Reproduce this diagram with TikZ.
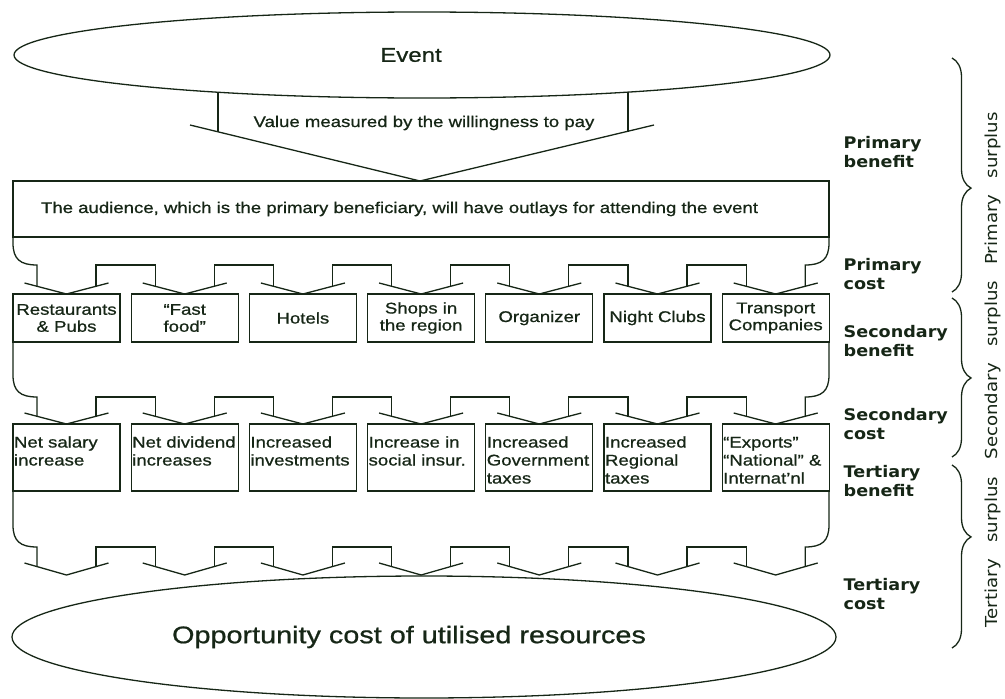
\documentclass[tikz,border=0pt]{standalone}
\usepackage{fontspec}
\setmainfont{Liberation Sans}[FakeStretch=1.2,FakeBold=0.8]
\newfontfamily\sidefont{DejaVu Sans}[FakeStretch=1.1]
\usepackage{tikz}
\usetikzlibrary{shapes.geometric,decorations.pathreplacing}
\definecolor{ink}{RGB}{22,38,22}
\newcommand{\nohyph}{\hyphenpenalty=10000\relax}

% one ring of block arrows: band top, comb line, head top, head tip
\newcommand{\combrow}[4]{%
  \draw (13,#1) -- (13,#2-22) .. controls (13,#2-6) and (20,#2) .. (37,#2) -- (37,#3+0.3*#4-0.3*#3);
  \draw (829,#1) -- (829,#2-22) .. controls (829,#2-6) and (822,#2) .. (805.2,#2) -- (805.2,#3+0.3*#4-0.3*#3);
  \foreach \i in {0,...,6} {
    \pgfmathsetmacro{\c}{66.5+118.2*\i}
    \draw (\c-42,#3) -- (\c,#4) -- (\c+42,#3);
    \ifnum\i<6
      \draw (\c+29.5,#3+0.3*#4-0.3*#3) -- (\c+29.5,#2) -- (\c+88.7,#2) -- (\c+88.7,#3+0.3*#4-0.3*#3);
    \fi
  }
}

\begin{document}
\begin{tikzpicture}[
    x=1pt, y=-1pt,
    line width=1.3pt,
    color=ink,
    bigoval/.style={ellipse, draw, inner sep=0},
    bandbox/.style={rectangle, draw, minimum height=56pt, text width=760pt, inner xsep=28pt, align=left, font=\fontsize{15.5}{18}\selectfont},
    benefitbox/.style={rectangle, draw, minimum height=48pt, text width=105pt, inner xsep=1pt, inner ysep=0pt, align=center, font=\fontsize{15.5}{17}\selectfont\nohyph},
    costbox/.style={rectangle, draw, text width=105pt, inner xsep=1pt, inner ysep=2pt, text height=21.5pt, text depth=41.5pt, align=left, font=\fontsize{15.5}{18}\selectfont\nohyph},
    sidelabel/.style={anchor=west, align=left, inner sep=0, font=\sidefont\bfseries\fontsize{16}{19}\selectfont},
    surplus/.style={rotate=90, inner sep=0, font=\sidefont\fontsize{16.5}{19}\selectfont},
    surplusbrace/.style={decorate, decoration={brace, amplitude=19pt, aspect=#1}}
]
\useasboundingbox (0,0) rectangle (1005,699);

\node[bigoval, minimum width=816pt, minimum height=86pt, font=\fontsize{20}{24}\selectfont] (event) at (422,55) {Event\hspace*{22pt}};
\node[font=\fontsize{15.5}{18}\selectfont] (value) at (424,123) {Value measured by the willingness to pay};
\draw (218,92.2) -- (218,131.7);
\draw (628,92.1) -- (628,131.7);
\draw (190,125) -- (420,181) -- (654,125);

\node[bandbox] (audience) at (421,209) {The audience, which is the primary beneficiary, will have outlays for attending the event};

% primary cost -> secondary benefit
\combrow{237}{265}{283}{294}
\foreach \txt [count=\i] in {{Restaurants\\\& Pubs},{``Fast\\food''},Hotels,{Shops in\\the region},Organizer,{Night Clubs},{Transport\\Companies}}
  \node[benefitbox] (ben-\i) at ({66.5+118.2*(\i-1)},318) {\txt};

% secondary cost -> tertiary benefit
\combrow{342}{397}{413}{424}
\foreach \txt [count=\i] in {{Net salary\\increase},{Net dividend\\increases},{Increased\\investments},{Increase in\\social insur.},{Increased\\Government\\taxes},{Increased\\Regional\\taxes},{``Exports''\\``National'' \&\\Internat'nl}}
  \node[costbox] (cost-\i) at ({66.5+118.2*(\i-1)},457.5) {\txt};

% tertiary cost
\combrow{491}{547}{563}{575}
\node[bigoval, minimum width=824pt, minimum height=122pt, font=\fontsize{24}{28}\selectfont] (opportunity) at (424,637) {Opportunity cost of utilised resources\hspace*{30pt}};

\node[sidelabel] (pben) at (843,152.5) {Primary\\benefit};
\node[sidelabel] (pcost) at (843,274) {Primary\\cost};
\node[sidelabel] (sben) at (843,341) {Secondary\\benefit};
\node[sidelabel] (scost) at (843,424) {Secondary\\cost};
\node[sidelabel] (tben) at (843,481) {Tertiary\\benefit};
\node[sidelabel] (tcost) at (843,594) {Tertiary\\cost};

\draw[surplusbrace=0.556] (952,58) -- (952,292);
\draw[surplusbrace=0.503] (952,298) -- (952,457);
\draw[surplusbrace=0.393] (952,465) -- (952,648);
\node[surplus] (psur) at (993,188.5) {Primary\quad surplus};
\node[surplus] (ssur) at (993,370) {Secondary\quad surplus};
\node[surplus] (tsur) at (993,552) {Tertiary\quad surplus};

\end{tikzpicture}
\end{document}
